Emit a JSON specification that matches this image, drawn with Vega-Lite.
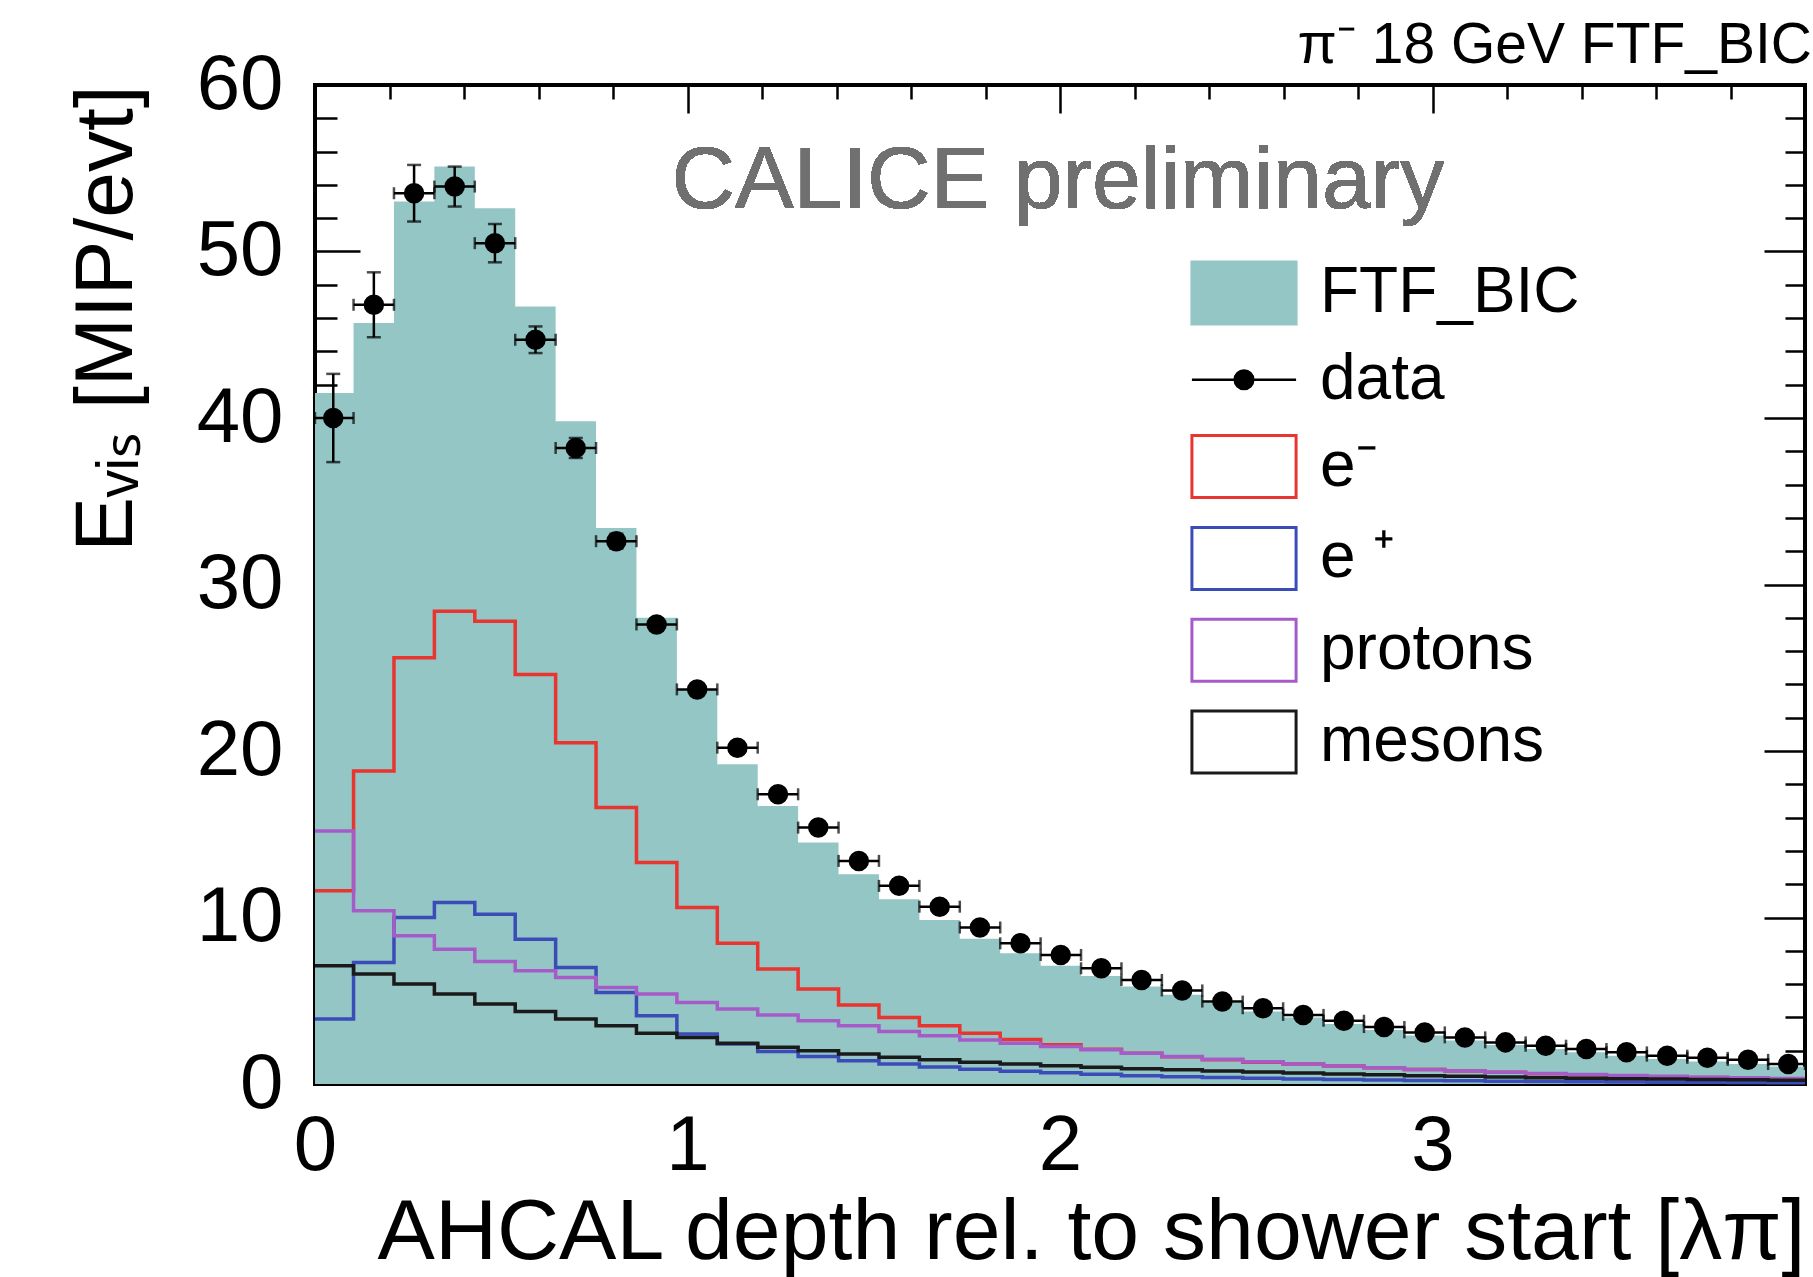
{
  "$schema": "https://vega.github.io/schema/vega-lite/v6.json",
  "width": 1490,
  "height": 999,
  "autosize": {"type": "none"},
  "padding": {"left": 315, "top": 85, "right": 8, "bottom": 193},
  "background": "white",
  "title": {"text": "π⁻ 18 GeV FTF_BIC", "anchor": "end", "fontSize": 57, "fontWeight": "normal", "color": "black", "offset": -29, "font": "Liberation Sans"},
  "config": {"font": "Liberation Sans", "view": {"stroke": "black", "strokeWidth": 4}},
  "data": {"values": [
    {"x0": 0, "x1": 0.1035, "xc": 0.049, "mc": 41.5, "data": 40.0, "err": 2.65, "e⁻": 11.6, "e ⁺": 3.9, "protons": 15.2, "mesons": 7.1},
    {"x0": 0.1035, "x1": 0.212, "xc": 0.158, "mc": 45.7, "data": 46.8, "err": 1.95, "e⁻": 18.8, "e ⁺": 7.3, "protons": 10.4, "mesons": 6.6},
    {"x0": 0.212, "x1": 0.3205, "xc": 0.266, "mc": 53.0, "data": 53.5, "err": 1.7, "e⁻": 25.6, "e ⁺": 10.0, "protons": 8.9, "mesons": 6.0},
    {"x0": 0.3205, "x1": 0.429, "xc": 0.375, "mc": 55.1, "data": 53.9, "err": 1.2, "e⁻": 28.4, "e ⁺": 10.9, "protons": 8.1, "mesons": 5.4},
    {"x0": 0.429, "x1": 0.5375, "xc": 0.483, "mc": 52.6, "data": 50.5, "err": 1.15, "e⁻": 27.8, "e ⁺": 10.2, "protons": 7.35, "mesons": 4.8},
    {"x0": 0.5375, "x1": 0.646, "xc": 0.592, "mc": 46.7, "data": 44.7, "err": 0.8, "e⁻": 24.6, "e ⁺": 8.7, "protons": 6.8, "mesons": 4.35},
    {"x0": 0.646, "x1": 0.7545, "xc": 0.700, "mc": 39.8, "data": 38.2, "err": 0.6, "e⁻": 20.5, "e ⁺": 7.0, "protons": 6.4, "mesons": 3.9},
    {"x0": 0.7545, "x1": 0.863, "xc": 0.809, "mc": 33.4, "data": 32.6, "err": 0.45, "e⁻": 16.6, "e ⁺": 5.5, "protons": 5.8, "mesons": 3.5},
    {"x0": 0.863, "x1": 0.9715, "xc": 0.917, "mc": 28.0, "data": 27.6, "err": 0.35, "e⁻": 13.3, "e ⁺": 4.1, "protons": 5.4, "mesons": 3.05},
    {"x0": 0.9715, "x1": 1.08, "xc": 1.026, "mc": 23.7, "data": 23.7, "err": 0.3, "e⁻": 10.6, "e ⁺": 3.0, "protons": 4.9, "mesons": 2.8},
    {"x0": 1.08, "x1": 1.1885, "xc": 1.134, "mc": 19.2, "data": 20.2, "err": 0.3, "e⁻": 8.45, "e ⁺": 2.4, "protons": 4.5, "mesons": 2.45},
    {"x0": 1.1885, "x1": 1.297, "xc": 1.243, "mc": 16.7, "data": 17.4, "err": 0.25, "e⁻": 6.9, "e ⁺": 1.95, "protons": 4.15, "mesons": 2.2},
    {"x0": 1.297, "x1": 1.4055, "xc": 1.351, "mc": 14.5, "data": 15.4, "err": 0.25, "e⁻": 5.7, "e ⁺": 1.65, "protons": 3.8, "mesons": 2.0},
    {"x0": 1.4055, "x1": 1.514, "xc": 1.460, "mc": 12.6, "data": 13.4, "err": 0.2, "e⁻": 4.75, "e ⁺": 1.4, "protons": 3.5, "mesons": 1.8},
    {"x0": 1.514, "x1": 1.6225, "xc": 1.568, "mc": 11.1, "data": 11.9, "err": 0.2, "e⁻": 4.0, "e ⁺": 1.2, "protons": 3.15, "mesons": 1.6},
    {"x0": 1.6225, "x1": 1.731, "xc": 1.677, "mc": 9.85, "data": 10.65, "err": 0.2, "e⁻": 3.5, "e ⁺": 1.02, "protons": 2.9, "mesons": 1.45},
    {"x0": 1.731, "x1": 1.8395, "xc": 1.785, "mc": 8.73, "data": 9.4, "err": 0.2, "e⁻": 3.05, "e ⁺": 0.88, "protons": 2.65, "mesons": 1.3},
    {"x0": 1.8395, "x1": 1.948, "xc": 1.894, "mc": 7.86, "data": 8.45, "err": 0.2, "e⁻": 2.68, "e ⁺": 0.77, "protons": 2.45, "mesons": 1.2},
    {"x0": 1.948, "x1": 2.0565, "xc": 2.002, "mc": 7.1, "data": 7.75, "err": 0.2, "e⁻": 2.35, "e ⁺": 0.67, "protons": 2.25, "mesons": 1.1},
    {"x0": 2.0565, "x1": 2.165, "xc": 2.111, "mc": 6.48, "data": 6.95, "err": 0.2, "e⁻": 2.08, "e ⁺": 0.58, "protons": 2.05, "mesons": 1.0},
    {"x0": 2.165, "x1": 2.2735, "xc": 2.219, "mc": 5.86, "data": 6.25, "err": 0.2, "e⁻": 1.85, "e ⁺": 0.5, "protons": 1.85, "mesons": 0.92},
    {"x0": 2.2735, "x1": 2.382, "xc": 2.328, "mc": 5.36, "data": 5.62, "err": 0.15, "e⁻": 1.63, "e ⁺": 0.44, "protons": 1.65, "mesons": 0.85},
    {"x0": 2.382, "x1": 2.4905, "xc": 2.436, "mc": 4.86, "data": 4.95, "err": 0.15, "e⁻": 1.45, "e ⁺": 0.39, "protons": 1.48, "mesons": 0.78},
    {"x0": 2.4905, "x1": 2.599, "xc": 2.545, "mc": 4.36, "data": 4.55, "err": 0.15, "e⁻": 1.3, "e ⁺": 0.34, "protons": 1.33, "mesons": 0.72},
    {"x0": 2.599, "x1": 2.7075, "xc": 2.653, "mc": 4.0, "data": 4.15, "err": 0.15, "e⁻": 1.2, "e ⁺": 0.3, "protons": 1.2, "mesons": 0.66},
    {"x0": 2.7075, "x1": 2.816, "xc": 2.762, "mc": 3.6, "data": 3.8, "err": 0.15, "e⁻": 1.08, "e ⁺": 0.27, "protons": 1.08, "mesons": 0.6},
    {"x0": 2.816, "x1": 2.9245, "xc": 2.870, "mc": 3.25, "data": 3.42, "err": 0.15, "e⁻": 0.97, "e ⁺": 0.24, "protons": 0.97, "mesons": 0.55},
    {"x0": 2.9245, "x1": 3.033, "xc": 2.979, "mc": 2.92, "data": 3.1, "err": 0.15, "e⁻": 0.87, "e ⁺": 0.21, "protons": 0.87, "mesons": 0.5},
    {"x0": 3.033, "x1": 3.1415, "xc": 3.087, "mc": 2.62, "data": 2.8, "err": 0.15, "e⁻": 0.78, "e ⁺": 0.19, "protons": 0.78, "mesons": 0.46},
    {"x0": 3.1415, "x1": 3.25, "xc": 3.196, "mc": 2.34, "data": 2.5, "err": 0.15, "e⁻": 0.7, "e ⁺": 0.17, "protons": 0.7, "mesons": 0.42},
    {"x0": 3.25, "x1": 3.3585, "xc": 3.304, "mc": 2.1, "data": 2.3, "err": 0.15, "e⁻": 0.62, "e ⁺": 0.15, "protons": 0.63, "mesons": 0.38},
    {"x0": 3.3585, "x1": 3.467, "xc": 3.413, "mc": 1.9, "data": 2.1, "err": 0.15, "e⁻": 0.55, "e ⁺": 0.13, "protons": 0.57, "mesons": 0.35},
    {"x0": 3.467, "x1": 3.5755, "xc": 3.521, "mc": 1.7, "data": 1.9, "err": 0.15, "e⁻": 0.49, "e ⁺": 0.12, "protons": 0.51, "mesons": 0.32},
    {"x0": 3.5755, "x1": 3.684, "xc": 3.630, "mc": 1.5, "data": 1.7, "err": 0.15, "e⁻": 0.44, "e ⁺": 0.11, "protons": 0.46, "mesons": 0.3},
    {"x0": 3.684, "x1": 3.7925, "xc": 3.738, "mc": 1.35, "data": 1.57, "err": 0.15, "e⁻": 0.39, "e ⁺": 0.1, "protons": 0.41, "mesons": 0.27},
    {"x0": 3.7925, "x1": 3.901, "xc": 3.847, "mc": 1.2, "data": 1.45, "err": 0.15, "e⁻": 0.35, "e ⁺": 0.09, "protons": 0.37, "mesons": 0.25},
    {"x0": 3.901, "x1": 4.0, "xc": 3.955, "mc": 1.05, "data": 1.2, "err": 0.15, "e⁻": 0.31, "e ⁺": 0.08, "protons": 0.33, "mesons": 0.23},
    {"x0": 4.0, "mc": 1.05, "e⁻": 0.31, "e ⁺": 0.08, "protons": 0.33, "mesons": 0.23}
  ]},
  "resolve": {"axis": {"x": "independent", "y": "independent"}},
  "layer": [
    {
      "mark": {"type": "area", "interpolate": "step-after", "opacity": 1},
      "encoding": {
        "x": {"field": "x0", "type": "quantitative", "scale": {"domain": [0, 4], "nice": false, "zero": false},
          "axis": {"orient": "bottom", "values": [0,0.2,0.4,0.6,0.8,1,1.2,1.4,1.6,1.8,2,2.2,2.4,2.6,2.8,3,3.2,3.4,3.6,3.8],
            "domain": false, "grid": false, "tickColor": "black", "tickWidth": 2.5,
            "tickSize": {"condition": {"test": "datum.value % 1 === 0", "value": -30}, "value": -15},
            "labelExpr": "datum.value % 1 === 0 ? format(datum.value, 'd') : ''",
            "labelFontSize": 78, "labelColor": "black", "labelPadding": 53, "labelFlush": false, "labelOverlap": false, "labelBound": false,
            "title": "AHCAL depth rel. to shower start [λπ]", "titleFontSize": 86, "titleFontWeight": "normal", "titleColor": "black", "titleAnchor": "end", "titlePadding": -10}},
        "y": {"field": "mc", "type": "quantitative", "scale": {"domain": [0, 60], "nice": false},
          "axis": {"orient": "left", "values": [0,2,4,6,8,10,12,14,16,18,20,22,24,26,28,30,32,34,36,38,40,42,44,46,48,50,52,54,56,58,60],
            "domain": false, "grid": false, "tickColor": "black", "tickWidth": 2.5,
            "tickSize": {"condition": {"test": "datum.value % 10 === 0", "value": -45}, "value": -22},
            "labelExpr": "datum.value % 10 === 0 ? format(datum.value, 'd') : ''",
            "labelFontSize": 78, "labelColor": "black", "labelPadding": 77, "labelFlush": false, "labelOverlap": false, "labelBound": false,
            "title": "Eᵥᵢₛ [MIP/evt]", "titleFontSize": 82, "titleFontWeight": "normal", "titleColor": "black", "titleAnchor": "end", "titlePadding": 48}},
        "color": {"datum": "FTF_BIC", "type": "nominal"}
      }
    },
    {
      "transform": [{"fold": ["e⁻", "e ⁺", "protons", "mesons"], "as": ["series", "value"]}],
      "mark": {"type": "line", "interpolate": "step-after", "strokeWidth": 3.5},
      "encoding": {
        "x": {"field": "x0", "type": "quantitative",
          "axis": {"orient": "top", "values": [0,0.2,0.4,0.6,0.8,1,1.2,1.4,1.6,1.8,2,2.2,2.4,2.6,2.8,3,3.2,3.4,3.6,3.8],
            "domain": false, "grid": false, "labels": false, "title": null, "tickColor": "black", "tickWidth": 2.5,
            "tickSize": {"condition": {"test": "datum.value % 1 === 0", "value": -28}, "value": -14}}},
        "y": {"field": "value", "type": "quantitative",
          "axis": {"orient": "right", "values": [0,2,4,6,8,10,12,14,16,18,20,22,24,26,28,30,32,34,36,38,40,42,44,46,48,50,52,54,56,58,60],
            "domain": false, "grid": false, "labels": false, "title": null, "tickColor": "black", "tickWidth": 2.5,
            "tickSize": {"condition": {"test": "datum.value % 10 === 0", "value": -41}, "value": -20}}},
        "color": {"field": "series", "type": "nominal",
          "scale": {"domain": ["FTF_BIC", "data", "e⁻", "e ⁺", "protons", "mesons"], "range": ["#94c6c5", "#000000", "#e8352f", "#3b4cb8", "#a65cc8", "#1a1a1a"]},
          "legend": {"orient": "none", "legendX": 897, "legendY": 176, "title": null, "padding": 0,
            "labelFontSize": 64, "labelFont": "Liberation Sans", "labelColor": "black", "labelLimit": 0,
            "symbolSize": 3844, "rowPadding": 17.8, "labelOffset": 44, "symbolStrokeWidth": 3, "symbolOpacity": 1,
            "encode": {"symbols": {"update": {
              "fillOpacity": {"signal": "datum.value === 'FTF_BIC' || datum.value === 'data' ? 1 : 0"},
              "stroke": {"signal": "datum.value === 'FTF_BIC' ? '#94c6c5' : scale('color', datum.value)"},
              "shape": {"signal": "datum.value === 'data' ? 'M-1.68,0H1.68M0.3,0A0.3,0.3 0 1,1 -0.3,0A0.3,0.3 0 1,1 0.3,0Z' : 'M-1.68,-1H1.68V1H-1.68Z'"},
              "strokeWidth": {"signal": "datum.value === 'data' ? 2.5 : 3"},
              "opacity": {"value": 1}, "strokeOpacity": {"value": 1}
            }}}}}
      }
    },
    {
      "transform": [{"filter": "isValid(datum.data)"}],
      "mark": {"type": "errorbar", "ticks": {"size": 12, "thickness": 2.5}, "thickness": 2.5, "color": "black"},
      "encoding": {
        "x": {"field": "x0", "type": "quantitative", "axis": null},
        "x2": {"field": "x1"},
        "y": {"field": "data", "type": "quantitative", "axis": null}
      }
    },
    {
      "transform": [{"filter": "isValid(datum.data)"}],
      "mark": {"type": "errorbar", "ticks": {"size": 14, "thickness": 2.5}, "thickness": 2.5, "color": "black"},
      "encoding": {
        "x": {"field": "xc", "type": "quantitative", "axis": null},
        "y": {"field": "data", "type": "quantitative", "axis": null},
        "yError": {"field": "err"}
      }
    },
    {
      "transform": [{"filter": "isValid(datum.data)"}],
      "mark": {"type": "point", "filled": true, "size": 420, "opacity": 1},
      "encoding": {
        "x": {"field": "xc", "type": "quantitative", "axis": null},
        "y": {"field": "data", "type": "quantitative", "axis": null},
        "color": {"datum": "data", "type": "nominal"}
      }
    },
    {
      "mark": {"type": "text", "text": "CALICE preliminary", "align": "left", "baseline": "alphabetic", "fontSize": 88, "color": "#707070", "font": "Liberation Sans"},
      "encoding": {
        "x": {"datum": 0.957, "type": "quantitative", "axis": null},
        "y": {"datum": 52.6, "type": "quantitative", "axis": null}
      }
    }
  ]
}
